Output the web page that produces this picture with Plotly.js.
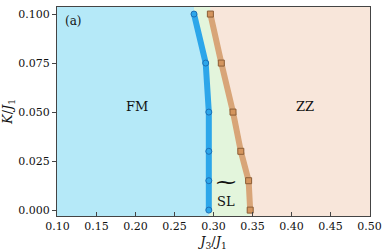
<!DOCTYPE html>
<html><head><meta charset="utf-8">
<script src="https://cdn.plot.ly/plotly-3.0.1.min.js"></script>
<style>html,body{margin:0;padding:0;background:#fff}#c{width:382px;height:252px}</style>
</head><body><div id="c"></div>
<script>
// Phase boundary data
const kVals = [0, 0.015, 0.03, 0.05, 0.075, 0.1];
const fmBoundaryJ3 = [0.294, 0.294, 0.294, 0.294, 0.29, 0.275];
const zzBoundaryJ3 = [0.347, 0.345, 0.335, 0.325, 0.31, 0.296];
const xTicks = [0.10, 0.15, 0.20, 0.25, 0.30, 0.35, 0.40, 0.45, 0.50];
const yTicks = [0, 0.025, 0.05, 0.075, 0.1];
const phaseLabels = ["FM", "SL", "ZZ"];

const yRange = [-0.003, 0.1036];
const xRange = [0.0995, 0.5005];
const yExt = [yRange[0] - 0.01].concat(kVals, [yRange[1] + 0.01]);
const ext = a => [a[0]].concat(a, [a[a.length - 1]]);

const font = "DejaVu Serif, serif";

const traces = [
  {x: ext(fmBoundaryJ3), y: yExt, mode: "lines", line: {width: 0},
   fill: "tozerox", fillcolor: "#b5e9f8", hoverinfo: "skip", showlegend: false},
  {x: ext(zzBoundaryJ3), y: yExt, mode: "lines", line: {width: 0},
   fill: "tonextx", fillcolor: "#e3f5dc", hoverinfo: "skip", showlegend: false},
  {x: fmBoundaryJ3, y: kVals, mode: "lines+markers", showlegend: false,
   line: {color: "#2ca6ea", width: 6},
   marker: {symbol: "circle", size: 6, color: "#2ca6ea", line: {color: "#1b6fb5", width: 1}}},
  {x: zzBoundaryJ3, y: kVals, mode: "lines+markers", showlegend: false,
   line: {color: "#d8a578", width: 6},
   marker: {symbol: "square", size: 6, color: "#d4955e", line: {color: "#8c5e36", width: 1}}}
];

const layout = {
  width: 382, height: 252,
  margin: {l: 57, r: 12, t: 7, b: 36},
  paper_bgcolor: "#fff", plot_bgcolor: "#f8e6da",
  font: {family: font, size: 11, color: "#111"},
  xaxis: {range: xRange, tickvals: xTicks, ticktext: xTicks.map(v => v.toFixed(2)),
    ticks: "inside", ticklen: 4, tickcolor: "#444", showgrid: false, zeroline: false,
    showline: true, linecolor: "#444", linewidth: 1, mirror: true,
    tickfont: {family: font, size: 11},
    title: {text: "<i>J</i><sub>3</sub>/<i>J</i><sub>1</sub>", standoff: 4, font: {family: font, size: 13}}},
  yaxis: {range: yRange, tickvals: yTicks, ticktext: yTicks.map(v => v.toFixed(3)),
    ticks: "outside", ticklen: 4, tickcolor: "#444", showgrid: false, zeroline: false,
    showline: true, linecolor: "#444", linewidth: 1, mirror: true,
    tickfont: {family: font, size: 11},
    title: {text: "<i>K</i>/<i>J</i><sub>1</sub>", standoff: 4, font: {family: font, size: 13}}},
  annotations: [
    {text: "(a)", xref: "paper", yref: "paper", x: 0.02, y: 0.975, xanchor: "left", yanchor: "top",
     showarrow: false, font: {family: font, size: 12}},
    {text: phaseLabels[0], x: 0.2016, y: 0.053, showarrow: false, font: {family: font, size: 13}},
    {text: phaseLabels[1], x: 0.316, y: 0.0045, showarrow: false, font: {family: font, size: 13}},
    {text: "\u2053", x: 0.316, y: 0.0145, showarrow: false, font: {family: font, size: 20}},
    {text: phaseLabels[2], x: 0.4176, y: 0.053, showarrow: false, font: {family: font, size: 13}}
  ]
};

Plotly.newPlot("c", traces, layout, {displayModeBar: false, staticPlot: true});
</script></body></html>
